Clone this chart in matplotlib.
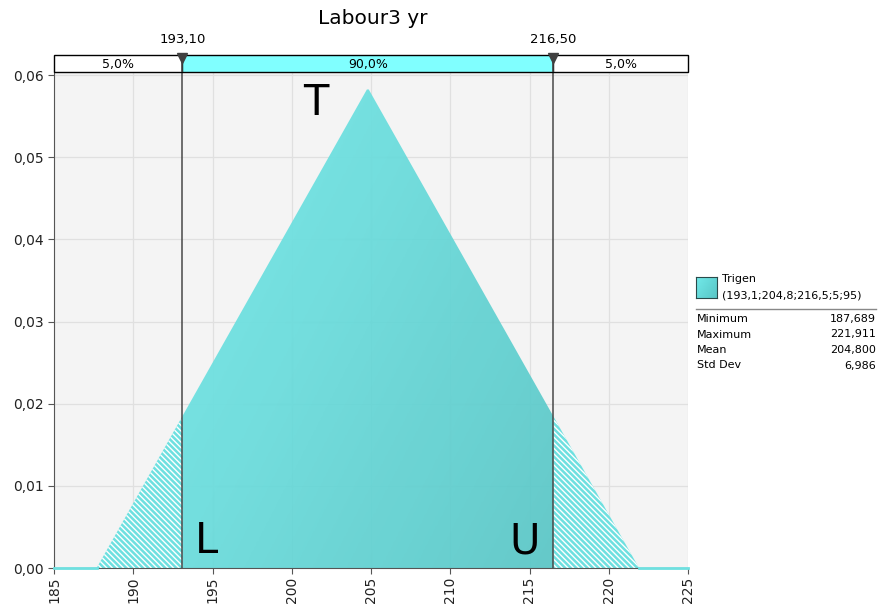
import matplotlib
matplotlib.use("Agg")
import matplotlib.pyplot as plt
import numpy as np
from matplotlib.colors import LinearSegmentedColormap
from matplotlib.patches import Polygon, Rectangle
from matplotlib.lines import Line2D

# distribution (Trigen fitted triangle)
dist_min = 187.689
dist_mode = 204.8
dist_max = 221.911
lower_cut = 193.10
upper_cut = 216.50
band_labels = ["5,0%", "90,0%", "5,0%"]
cut_labels = ["193,10", "216,50"]
x_ticks = [185, 190, 195, 200, 205, 210, 215, 220, 225]
y_ticks = [0.00, 0.01, 0.02, 0.03, 0.04, 0.05, 0.06]
stat_names = ["Minimum", "Maximum", "Mean", "Std Dev"]
stat_values = ["187,689", "221,911", "204,800", "6,986"]

peak = 2.0 / (dist_max - dist_min)


def pdf(x):
    x = np.asarray(x, dtype=float)
    y = np.where(x < dist_mode,
                 peak * (x - dist_min) / (dist_mode - dist_min),
                 peak * (dist_max - x) / (dist_max - dist_mode))
    return np.clip(y, 0, None)


def comma(v, fmt):
    return format(v, fmt).replace(".", ",")


plt.rcParams['font.family'] = ['DejaVu Sans']
plt.rcParams['hatch.linewidth'] = 1.0

fig = plt.figure(figsize=(8.79, 6.04), dpi=100)
W, H = 879, 604

cmap = LinearSegmentedColormap.from_list("cy", ["#72eaea", "#58c6c6"])

# main axes
ax = fig.add_axes([54 / W, 1 - 568 / H, 634 / W, 496 / H])
ax.set_facecolor("#f4f4f4")
ax.set_xlim(185, 225)
ax.set_ylim(0, 0.06 * 496 / 493)
ax.grid(True, color="#e0e0e0", lw=0.9)
ax.set_axisbelow(True)
for s in ["top", "right"]:
    ax.spines[s].set_visible(False)
for s in ["left", "bottom"]:
    ax.spines[s].set_color("#555555")
ax.set_xticks(x_ticks)
ax.set_xticklabels([str(t) for t in x_ticks], rotation=90, fontsize=10)
ax.set_yticks(y_ticks)
ax.set_yticklabels([comma(t, ".2f") for t in y_ticks], fontsize=10)
ax.tick_params(colors="#222222", length=4, color="#555555")
ax.tick_params(axis="x", pad=2)

# central gradient region
xc = np.linspace(lower_cut, upper_cut, 200)
poly_pts = [(lower_cut, 0)] + list(zip(xc, pdf(xc))) + [(upper_cut, 0)]
clip = Polygon(poly_pts, closed=True, transform=ax.transData, facecolor="none", edgecolor="none")
ax.add_patch(clip)
gx, gy = np.meshgrid(np.linspace(0, 1, 300), np.linspace(1, 0, 300))
grad = 0.6 * gx + 0.4 * (1 - gy)
im = ax.imshow(grad, extent=[lower_cut, upper_cut, 0, peak], cmap=cmap, aspect="auto",
               origin="upper", alpha=0.92, zorder=2)
im.set_clip_path(clip)

# hatched tails
xl = np.linspace(dist_min, lower_cut, 50)
ax.fill_between(xl, 0, pdf(xl), facecolor="#6ee0e0", edgecolor="white", hatch="\\\\\\\\\\\\",
                linewidth=0, zorder=2)
xr = np.linspace(upper_cut, dist_max, 50)
ax.fill_between(xr, 0, pdf(xr), facecolor="#6ee0e0", edgecolor="white", hatch="\\\\\\\\\\\\",
                linewidth=0, zorder=2)
ax.plot([185, dist_min], [0, 0], color="#6ee0e0", lw=2, zorder=3, clip_on=False)
ax.plot([dist_max, 225], [0, 0], color="#6ee0e0", lw=2, zorder=3, clip_on=False)

# cut lines
for c in (lower_cut, upper_cut):
    ax.axvline(c, color="#484848", lw=1.1, zorder=3)

# letters
ax.text(201.5, 0.0551, "T", fontsize=30, ha="center", va="baseline", zorder=4)
ax.text(194.6, 0.0018, "L", fontsize=30, ha="center", va="baseline", zorder=4)
ax.text(214.7, 0.0018, "U", fontsize=30, ha="center", va="baseline", zorder=4)

# top band
bx = fig.add_axes([54 / W, 1 - 72 / H, 634 / W, 17 / H])
bx.set_xlim(185, 225)
bx.set_ylim(0, 1)
bx.axis("off")
edges = [185, lower_cut, upper_cut, 225]
fills = ["white", "#80ffff", "white"]
for i in range(3):
    bx.add_patch(Rectangle((edges[i], 0), edges[i + 1] - edges[i], 1, facecolor=fills[i],
                           edgecolor="black", lw=1, clip_on=False))
    bx.text((edges[i] + edges[i + 1]) / 2, 0.45, band_labels[i], ha="center", va="center", fontsize=9)
for c, lab in zip((lower_cut, upper_cut), cut_labels):
    bx.plot([c, c], [0, 1], color="#484848", lw=1.1)
    bx.plot([c], [0.85], marker="v", markersize=7.5, color="#404040", clip_on=False, zorder=5)
    bx.text(c, 1.55, lab, ha="center", va="bottom", fontsize=9.5)

fig.text(373 / W, 1 - 18 / H, "Labour3 yr", ha="center", va="center", fontsize=14.5)

# legend / stats panel
sw = fig.add_axes([696 / W, 1 - 298 / H, 21 / W, 21 / H])
sw.imshow(grad, cmap=cmap, aspect="auto")
sw.set_xticks([])
sw.set_yticks([])
for s in sw.spines.values():
    s.set_color("#2a4a4a")
fig.text(722 / W, 1 - 279 / H, "Trigen", fontsize=8, va="center")
fig.text(722 / W, 1 - 295 / H, "(193,1;204,8;216,5;5;95)", fontsize=8, va="center")
fig.add_artist(Line2D([696 / W, 876 / W], [1 - 309 / H, 1 - 309 / H], transform=fig.transFigure,
                      color="#888888", lw=1))
for i, (n, v) in enumerate(zip(stat_names, stat_values)):
    yy = 1 - (319 + i * 15.5) / H
    fig.text(697 / W, yy, n, fontsize=8, va="center")
    fig.text(876 / W, yy, v, fontsize=8, va="center", ha="right")

fig.savefig("out.png", dpi=100)
